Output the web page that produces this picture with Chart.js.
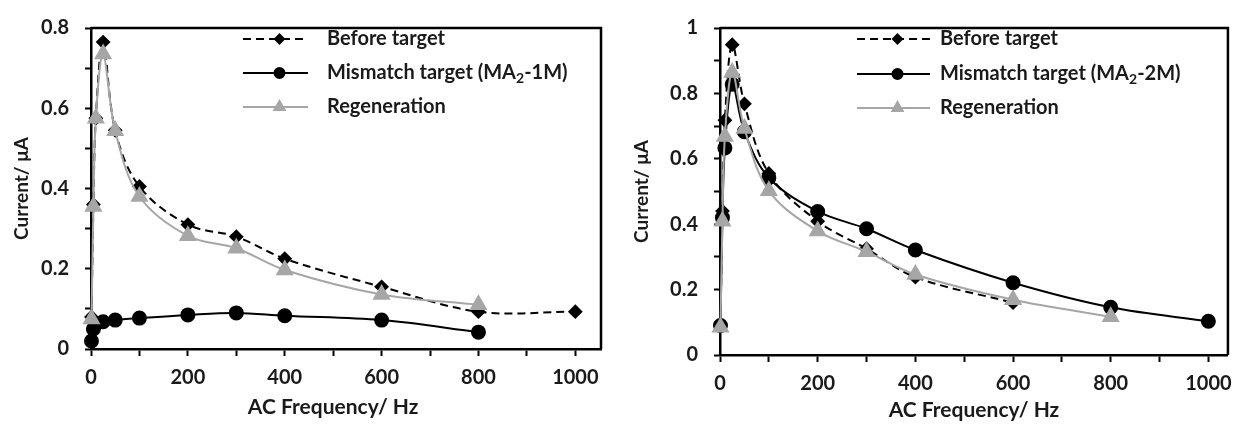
<!DOCTYPE html>
<html>
<head>
<meta charset="utf-8">
<script src="https://cdn.jsdelivr.net/npm/chart.js@4/dist/chart.umd.min.js"></script>
<style>
  body { margin: 0; background: #fff; }
  #wrap { position: relative; width: 1242px; height: 427px; }
  #left-chart { position: absolute; left: 0; top: 0; }
  #right-chart { position: absolute; left: 615px; top: 0; }
</style>
</head>
<body>
<div id="wrap">
  <canvas id="left-chart" width="615" height="427"></canvas>
  <canvas id="right-chart" width="627" height="427"></canvas>
</div>
<script>
// AC frequency (Hz)
var freqs = [1, 5, 10, 25, 50, 100, 200, 300, 400, 600, 800, 1000];
var xTicks = [0, 200, 400, 600, 800, 1000];

// left panel (MA2-1M)
var beforeLeft   = [0.08, 0.36, 0.575, 0.765, 0.545, 0.405, 0.31, 0.28, 0.225, 0.155, 0.093, 0.093];
var mismatchLeft = [0.02, 0.05, 0.062, 0.068, 0.072, 0.077, 0.085, 0.09, 0.083, 0.072, 0.042, null];
var regenLeft    = [0.075, 0.355, 0.575, 0.735, 0.544, 0.38, 0.282, 0.251, 0.197, 0.136, 0.11, null];

// right panel (MA2-2M)
var beforeRight   = [0.09, 0.44, 0.718, 0.949, 0.768, 0.555, 0.409, 0.325, 0.238, 0.16, null, null];
var mismatchRight = [0.09, 0.42, 0.633, 0.828, 0.683, 0.542, 0.439, 0.386, 0.321, 0.221, 0.146, 0.103];
var regenRight    = [0.085, 0.409, 0.668, 0.864, 0.693, 0.502, 0.379, 0.316, 0.246, 0.169, 0.117, null];

var labelBefore = "Before target";
var labelMismatchLeft = ["Mismatch target (MA", "2", "-1M)"];
var labelMismatchRight = ["Mismatch target (MA", "2", "-2M)"];
var labelRegen = "Regeneration";
var yTitle = "Current/ \u03bcA";
var xTitle = "AC Frequency/ Hz";

var GRAY = "#a6a6a6";
var TEXT = "#1a1a1a";
var FONT = "Lato";

function toPoints(values) {
  return freqs.map(function(f, i) {
    return {x: f, y: values[i]};
  });
}

function drawMarker(ctx, style, x, y, r) {
  Chart.helpers.drawPoint(ctx, {pointStyle: style, radius: r, borderWidth: 1, rotation: 0}, x, y);
  ctx.fill();
}

// frame, axis titles and the legend inside the plot
var extrasPlugin = {
  id: "extras",
  afterDraw: function(chart, args, opts) {
    var ctx = chart.ctx;
    var area = chart.chartArea;
    ctx.save();
    ctx.strokeStyle = "#000";
    ctx.lineWidth = 2.5;
    ctx.beginPath();
    ctx.moveTo(area.left, area.top);
    ctx.lineTo(area.right, area.top);
    ctx.lineTo(area.right, area.bottom);
    ctx.stroke();

    ctx.fillStyle = TEXT;
    ctx.textAlign = "center";
    ctx.textBaseline = "middle";
    var xs = chart.scales.x;
    var cx = opts.xTitleOnPlot ? (area.left + area.right) / 2
      : (xs.getPixelForValue(0) + xs.getPixelForValue(1000)) / 2;
    ctx.font = "bold 21px " + FONT;
    ctx.fillText(xTitle, cx, opts.xTitleY);
    ctx.save();
    ctx.translate(opts.yTitleX, (area.top + area.bottom) / 2);
    ctx.rotate(-Math.PI / 2);
    ctx.font = "bold 19px " + FONT;
    ctx.fillText(yTitle, 0, 0);
    ctx.restore();

    // legend rows
    var rows = opts.rows;
    chart.data.datasets.forEach(function(ds, i) {
      var y = rows[i];
      ctx.save();
      ctx.strokeStyle = ds.borderColor;
      ctx.fillStyle = ds.borderColor;
      ctx.lineWidth = 2;
      ctx.setLineDash(ds.borderDash || []);
      ctx.beginPath();
      ctx.moveTo(opts.sampleX0, y);
      ctx.lineTo(opts.sampleX1, y);
      ctx.stroke();
      ctx.setLineDash([]);
      var mx = (opts.sampleX0 + opts.sampleX1) / 2 + 4;
      drawMarker(ctx, ds.pointStyle, mx, y, ds.legendRadius);
      ctx.restore();

      ctx.fillStyle = TEXT;
      ctx.textAlign = "left";
      ctx.textBaseline = "middle";
      var parts = ds.legendParts;
      var tx = opts.textX;
      for (var p = 0; p < parts.length; p++) {
        if (p === 1) {
          ctx.font = "bold 14px " + FONT;
          ctx.fillText(parts[p], tx, y + 5);
        } else {
          ctx.font = "bold 20px " + FONT;
          ctx.fillText(parts[p], tx, y);
        }
        tx += ctx.measureText(parts[p]).width;
      }
    });
    ctx.restore();
  }
};

function makeChart(canvasId, before, mismatch, regen, mismatchLabel, yMax, xMax, box, extras) {
  var canvas = document.getElementById(canvasId);
  var ctx = canvas.getContext("2d");
  return new Chart(ctx, {
    type: "line",
    data: {
      datasets: [{
        label: labelBefore,
        legendParts: [labelBefore],
        data: toPoints(before),
        borderColor: "#000",
        backgroundColor: "#000",
        borderWidth: 2,
        borderDash: [8, 5],
        pointStyle: "rectRot",
        pointRadius: 6,
        legendRadius: 4.5,
        order: 3
      }, {
        label: mismatchLabel.join(""),
        legendParts: mismatchLabel,
        data: toPoints(mismatch),
        borderColor: "#000",
        backgroundColor: "#000",
        borderWidth: 2,
        pointStyle: "circle",
        pointRadius: 6.5,
        legendRadius: 5,
        order: 2
      }, {
        label: labelRegen,
        legendParts: [labelRegen],
        data: toPoints(regen),
        borderColor: GRAY,
        backgroundColor: GRAY,
        borderWidth: 2,
        pointStyle: "triangle",
        pointRadius: 8.5,
        legendRadius: 6,
        order: 1
      }]
    },
    options: {
      responsive: false,
      animation: false,
      devicePixelRatio: 1,
      layout: {padding: {left: 0, top: box.top, right: canvas.width - box.right, bottom: 0}},
      elements: {
        line: {tension: 0.35},
        point: {borderWidth: 1, hoverRadius: 6}
      },
      datasets: {line: {clip: 12, spanGaps: false}},
      plugins: {
        legend: {display: false},
        tooltip: {enabled: false},
        extras: extras
      },
      scales: {
        x: {
          type: "linear",
          min: 0,
          max: xMax,
          afterBuildTicks: function(scale) {
            var t = [];
            for (var v = 0; v <= 1000; v += 100) t.push({value: v});
            scale.ticks = t;
          },
          afterFit: function(scale) {
            scale.height = canvas.height - box.bottom;
          },
          border: {display: true, color: "#000", width: 2.5},
          grid: {drawOnChartArea: false, drawTicks: true, tickLength: 7, tickColor: "#000", tickWidth: 2},
          ticks: {
            padding: 10,
            color: TEXT,
            font: {family: FONT, size: 20, weight: "bold"},
            maxRotation: 0,
            autoSkip: false,
            callback: function(v) {
              return xTicks.indexOf(v) >= 0 ? String(v) : "";
            }
          }
        },
        y: {
          min: 0,
          max: yMax,
          afterFit: function(scale) {
            scale.width = box.left;
          },
          border: {display: true, color: "#000", width: 2.5},
          grid: {drawOnChartArea: false, drawTicks: true, tickLength: 6, tickColor: "#000", tickWidth: 2},
          ticks: {
            stepSize: 0.1,
            padding: 16,
            color: TEXT,
            font: {family: FONT, size: 20, weight: "bold"},
            callback: function(v) {
              var k = Math.round(v * 10);
              return k % 2 === 0 ? String(k / 10) : "";
            }
          }
        }
      }
    },
    plugins: [extrasPlugin]
  });
}

makeChart("left-chart", beforeLeft, mismatchLeft, regenLeft, labelMismatchLeft, 0.8, 1053,
  {left: 91, top: 21, right: 601, bottom: 349},
  {xTitleY: 407, xTitleOnPlot: false, yTitleX: 22, rows: [39, 73, 107], sampleX0: 243, sampleX1: 308, textX: 327});

makeChart("right-chart", beforeRight, mismatchRight, regenRight, labelMismatchRight, 1, 1040,
  {left: 105, top: 23, right: 621, bottom: 355},
  {xTitleY: 410, xTitleOnPlot: true, yTitleX: 27, rows: [39, 74, 108], sampleX0: 242, sampleX1: 315, textX: 325});
</script>
</body>
</html>
